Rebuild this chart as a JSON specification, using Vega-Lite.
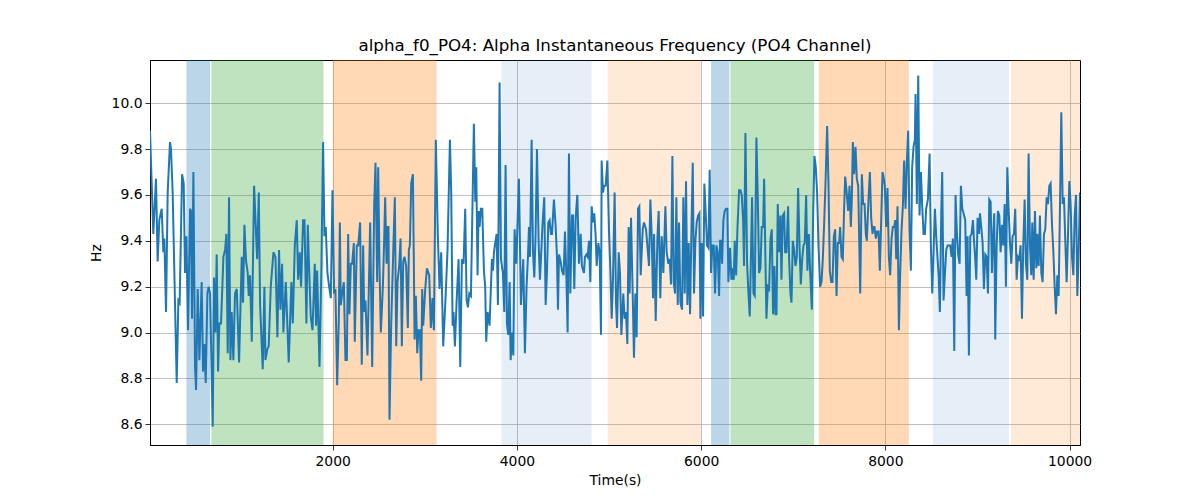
{
"$schema": "https://vega.github.io/schema/vega-lite/v6.json",
"autosize": {"type": "none"},
"padding": {"left": 150, "top": 60, "right": 120, "bottom": 55},
"width": 930,
"height": 385,
"title": {"text": "alpha_f0_PO4: Alpha Instantaneous Frequency (PO4 Channel)", "font": "DejaVu Sans", "fontSize": 16.7, "fontWeight": "normal", "color": "#000000", "offset": 5},
"config": {"view": {"stroke": "#000000", "strokeWidth": 1}},
"datasets": {
"bands": [
{"s": 412, "e": 669, "type": "a"},
{"s": 683, "e": 1900, "type": "b"},
{"s": 2001, "e": 3128, "type": "c"},
{"s": 3833, "e": 4811, "type": "d"},
{"s": 4985, "e": 5999, "type": "e"},
{"s": 6108, "e": 6307, "type": "a"},
{"s": 6318, "e": 7227, "type": "b"},
{"s": 7278, "e": 8255, "type": "c"},
{"s": 8516, "e": 9342, "type": "d"},
{"s": 9363, "e": 10113, "type": "e"}
],
"sig": [
{"t":17,"hz":9.88},{"t":53,"hz":9.43},{"t":82,"hz":9.67},{"t":100,"hz":9.31},{"t":118,"hz":9.49},{"t":144,"hz":9.54},{"t":162,"hz":9.35},{"t":173,"hz":9.41},{"t":191,"hz":9.09},{"t":209,"hz":9.61},{"t":234,"hz":9.83},{"t":245,"hz":9.80},{"t":263,"hz":9.61},{"t":307,"hz":8.78},{"t":325,"hz":9.14},{"t":339,"hz":9.13},{"t":365,"hz":9.69},{"t":383,"hz":9.65},{"t":397,"hz":9.26},{"t":412,"hz":9.42},{"t":430,"hz":9.01},{"t":452,"hz":9.54},{"t":462,"hz":9.53},{"t":473,"hz":9.06},{"t":488,"hz":9.70},{"t":506,"hz":8.85},{"t":517,"hz":8.75},{"t":535,"hz":9.19},{"t":553,"hz":8.88},{"t":578,"hz":9.22},{"t":593,"hz":8.83},{"t":607,"hz":8.95},{"t":622,"hz":8.78},{"t":640,"hz":9.17},{"t":654,"hz":9.20},{"t":669,"hz":9.17},{"t":698,"hz":8.59},{"t":712,"hz":9.24},{"t":727,"hz":9.00},{"t":741,"hz":9.34},{"t":756,"hz":8.83},{"t":770,"hz":9.04},{"t":788,"hz":9.04},{"t":814,"hz":9.33},{"t":832,"hz":9.36},{"t":846,"hz":9.43},{"t":861,"hz":8.91},{"t":875,"hz":9.59},{"t":890,"hz":8.88},{"t":904,"hz":9.09},{"t":922,"hz":8.88},{"t":940,"hz":9.17},{"t":959,"hz":9.19},{"t":984,"hz":8.87},{"t":1013,"hz":9.33},{"t":1027,"hz":9.13},{"t":1042,"hz":9.47},{"t":1060,"hz":9.31},{"t":1078,"hz":9.26},{"t":1089,"hz":9.16},{"t":1103,"hz":9.25},{"t":1122,"hz":8.96},{"t":1147,"hz":9.64},{"t":1180,"hz":9.32},{"t":1198,"hz":9.61},{"t":1212,"hz":9.12},{"t":1241,"hz":8.84},{"t":1259,"hz":9.20},
{"t":1270,"hz":8.88},{"t":1292,"hz":8.93},{"t":1306,"hz":8.94},{"t":1328,"hz":9.20},{"t":1357,"hz":9.35},{"t":1379,"hz":9.33},{"t":1400,"hz":8.98},{"t":1418,"hz":9.36},{"t":1433,"hz":9.10},{"t":1451,"hz":9.30},{"t":1465,"hz":9.00},{"t":1491,"hz":9.22},{"t":1523,"hz":8.87},{"t":1552,"hz":9.22},{"t":1567,"hz":9.04},{"t":1589,"hz":9.38},{"t":1610,"hz":9.49},{"t":1625,"hz":9.23},{"t":1643,"hz":9.35},{"t":1657,"hz":9.20},{"t":1679,"hz":9.49},{"t":1694,"hz":9.49},{"t":1715,"hz":9.04},{"t":1730,"hz":9.47},{"t":1741,"hz":9.32},{"t":1762,"hz":9.07},{"t":1781,"hz":9.01},{"t":1806,"hz":9.30},{"t":1820,"hz":9.03},{"t":1831,"hz":9.27},{"t":1857,"hz":8.85},{"t":1878,"hz":9.29},{"t":1896,"hz":9.83},{"t":1911,"hz":9.42},{"t":1925,"hz":9.46},{"t":1943,"hz":9.26},{"t":1962,"hz":9.20},{"t":1980,"hz":9.15},{"t":1998,"hz":9.62},{"t":2016,"hz":9.17},{"t":2030,"hz":9.19},{"t":2049,"hz":8.77},{"t":2067,"hz":9.06},{"t":2078,"hz":9.48},{"t":2088,"hz":9.12},{"t":2103,"hz":9.17},{"t":2121,"hz":9.22},{"t":2139,"hz":8.88},{"t":2154,"hz":8.88},{"t":2168,"hz":9.43},{"t":2182,"hz":9.08},{"t":2197,"hz":9.30},{"t":2211,"hz":9.30},{"t":2230,"hz":9.39},{"t":2240,"hz":8.96},{"t":2262,"hz":9.38},{"t":2277,"hz":9.38},{"t":2298,"hz":9.48},{"t":2316,"hz":8.86},{"t":2331,"hz":9.38},{"t":2342,"hz":9.09},{"t":2356,"hz":9.14},{"t":2378,"hz":8.90},{"t":2407,"hz":9.48},{"t":2429,"hz":8.85},{"t":2451,"hz":9.56},{"t":2465,"hz":9.74},{"t":2483,"hz":9.22},{"t":2494,"hz":9.72},{"t":2508,"hz":9.30},{"t":2523,"hz":9.00},
{"t":2545,"hz":9.20},{"t":2559,"hz":9.40},{"t":2570,"hz":9.59},{"t":2585,"hz":9.30},{"t":2595,"hz":9.46},{"t":2606,"hz":9.46},{"t":2617,"hz":8.62},{"t":2635,"hz":9.03},{"t":2661,"hz":9.40},{"t":2675,"hz":9.59},{"t":2690,"hz":8.94},{"t":2704,"hz":9.22},{"t":2722,"hz":9.29},{"t":2737,"hz":9.41},{"t":2751,"hz":8.94},{"t":2766,"hz":9.31},{"t":2780,"hz":9.33},{"t":2798,"hz":9.29},{"t":2816,"hz":9.02},{"t":2827,"hz":9.36},{"t":2838,"hz":9.38},{"t":2853,"hz":9.65},{"t":2871,"hz":9.69},{"t":2881,"hz":9.32},{"t":2889,"hz":8.97},{"t":2903,"hz":9.16},{"t":2918,"hz":8.91},{"t":2932,"hz":9.01},{"t":2947,"hz":9.01},{"t":2961,"hz":8.79},{"t":2972,"hz":9.19},{"t":2983,"hz":9.03},{"t":3005,"hz":9.19},{"t":3023,"hz":9.28},{"t":3048,"hz":9.25},{"t":3066,"hz":9.02},{"t":3084,"hz":9.15},{"t":3099,"hz":9.01},{"t":3120,"hz":9.84},{"t":3142,"hz":9.42},{"t":3160,"hz":9.19},{"t":3178,"hz":9.35},{"t":3200,"hz":8.94},{"t":3222,"hz":9.12},{"t":3247,"hz":9.36},{"t":3273,"hz":9.84},{"t":3287,"hz":9.61},{"t":3302,"hz":9.03},{"t":3312,"hz":9.09},{"t":3327,"hz":8.94},{"t":3345,"hz":9.13},{"t":3367,"hz":9.32},{"t":3385,"hz":8.85},{"t":3403,"hz":9.32},{"t":3421,"hz":9.30},{"t":3439,"hz":9.54},{"t":3454,"hz":9.14},{"t":3468,"hz":9.11},{"t":3483,"hz":9.17},{"t":3501,"hz":9.16},{"t":3519,"hz":9.58},{"t":3533,"hz":9.91},{"t":3548,"hz":9.57},{"t":3559,"hz":9.72},{"t":3573,"hz":9.25},{"t":3584,"hz":9.53},{"t":3595,"hz":9.46},{"t":3609,"hz":9.54},{"t":3624,"hz":9.54},{"t":3642,"hz":9.27},{"t":3656,"hz":9.20},{"t":3667,"hz":8.96},{"t":3682,"hz":9.09},{"t":3703,"hz":9.03},{"t":3729,"hz":9.32},{"t":3740,"hz":9.27},{"t":3751,"hz":9.35},{"t":3761,"hz":9.38},{"t":3780,"hz":9.43},{"t":3794,"hz":9.12},
{"t":3812,"hz":10.09},{"t":3827,"hz":9.32},{"t":3848,"hz":9.26},{"t":3863,"hz":9.09},{"t":3877,"hz":9.73},{"t":3892,"hz":9.04},{"t":3906,"hz":8.99},{"t":3921,"hz":9.22},{"t":3932,"hz":8.88},{"t":3950,"hz":9.00},{"t":3961,"hz":8.90},{"t":3975,"hz":9.45},{"t":3993,"hz":9.30},{"t":4022,"hz":9.67},{"t":4044,"hz":9.12},{"t":4069,"hz":9.32},{"t":4087,"hz":8.91},{"t":4105,"hz":9.20},{"t":4120,"hz":9.33},{"t":4131,"hz":9.46},{"t":4142,"hz":9.33},{"t":4160,"hz":9.84},{"t":4174,"hz":9.36},{"t":4189,"hz":9.24},{"t":4203,"hz":9.43},{"t":4218,"hz":9.80},{"t":4236,"hz":9.39},{"t":4250,"hz":9.23},{"t":4261,"hz":9.32},{"t":4279,"hz":9.48},{"t":4297,"hz":9.59},{"t":4312,"hz":9.12},{"t":4326,"hz":9.26},{"t":4341,"hz":9.48},{"t":4355,"hz":9.49},{"t":4370,"hz":9.43},{"t":4381,"hz":9.43},{"t":4402,"hz":9.58},{"t":4420,"hz":9.47},{"t":4435,"hz":9.33},{"t":4446,"hz":9.10},{"t":4457,"hz":9.34},{"t":4475,"hz":9.31},{"t":4489,"hz":9.27},{"t":4507,"hz":9.25},{"t":4522,"hz":9.44},{"t":4536,"hz":9.26},{"t":4551,"hz":9.00},{"t":4565,"hz":9.78},{"t":4580,"hz":9.17},{"t":4598,"hz":9.51},{"t":4609,"hz":9.51},{"t":4623,"hz":9.19},{"t":4638,"hz":9.50},{"t":4656,"hz":9.60},{"t":4674,"hz":9.30},{"t":4692,"hz":9.43},{"t":4706,"hz":9.29},{"t":4728,"hz":9.26},{"t":4739,"hz":9.33},{"t":4754,"hz":9.34},{"t":4768,"hz":9.33},{"t":4783,"hz":9.40},{"t":4797,"hz":9.22},{"t":4812,"hz":9.55},{"t":4826,"hz":9.48},{"t":4840,"hz":9.52},{"t":4855,"hz":9.42},{"t":4866,"hz":9.29},{"t":4884,"hz":9.39},{"t":4898,"hz":9.35},{"t":4913,"hz":8.99},{"t":4920,"hz":9.75},{"t":4935,"hz":9.61},{"t":4946,"hz":9.64},{"t":4964,"hz":9.64},{"t":4982,"hz":9.75},{"t":5000,"hz":9.44},{"t":5014,"hz":9.28},{"t":5029,"hz":9.06},{"t":5043,"hz":9.23},
{"t":5061,"hz":9.61},{"t":5076,"hz":9.13},{"t":5087,"hz":9.02},{"t":5105,"hz":9.35},{"t":5119,"hz":9.26},{"t":5134,"hz":8.99},{"t":5155,"hz":9.17},{"t":5170,"hz":9.06},{"t":5184,"hz":9.09},{"t":5199,"hz":8.95},{"t":5213,"hz":9.46},{"t":5224,"hz":9.17},{"t":5239,"hz":9.50},{"t":5257,"hz":9.17},{"t":5271,"hz":8.89},{"t":5286,"hz":9.17},{"t":5300,"hz":8.98},{"t":5315,"hz":9.54},{"t":5329,"hz":9.55},{"t":5344,"hz":9.25},{"t":5366,"hz":9.45},{"t":5380,"hz":9.48},{"t":5402,"hz":9.45},{"t":5420,"hz":9.36},{"t":5434,"hz":9.29},{"t":5449,"hz":9.58},{"t":5463,"hz":9.43},{"t":5478,"hz":9.15},{"t":5489,"hz":9.43},{"t":5507,"hz":9.05},{"t":5525,"hz":9.41},{"t":5539,"hz":9.53},{"t":5557,"hz":9.15},{"t":5572,"hz":9.42},{"t":5590,"hz":9.26},{"t":5612,"hz":9.55},{"t":5626,"hz":9.35},{"t":5644,"hz":9.30},{"t":5659,"hz":9.32},{"t":5673,"hz":9.21},{"t":5688,"hz":9.77},{"t":5702,"hz":9.22},{"t":5717,"hz":9.17},{"t":5731,"hz":9.59},{"t":5746,"hz":9.12},{"t":5760,"hz":9.48},{"t":5775,"hz":9.13},{"t":5793,"hz":9.10},{"t":5807,"hz":9.59},{"t":5822,"hz":9.17},{"t":5836,"hz":9.66},{"t":5851,"hz":9.12},{"t":5865,"hz":9.39},{"t":5880,"hz":9.08},{"t":5894,"hz":9.43},{"t":5909,"hz":9.74},{"t":5923,"hz":9.17},{"t":5938,"hz":9.40},{"t":5952,"hz":9.48},{"t":5967,"hz":9.51},{"t":5981,"hz":9.52},{"t":5992,"hz":9.06},{"t":6006,"hz":9.39},{"t":6021,"hz":9.07},{"t":6035,"hz":9.65},{"t":6050,"hz":9.52},{"t":6064,"hz":9.38},{"t":6079,"hz":9.37},{"t":6093,"hz":9.71},{"t":6108,"hz":9.26},{"t":6122,"hz":9.38},{"t":6137,"hz":9.38},{"t":6151,"hz":9.17},{"t":6166,"hz":9.38},{"t":6180,"hz":9.35},{"t":6195,"hz":9.16},{"t":6206,"hz":9.40},{"t":6220,"hz":9.40},{"t":6227,"hz":9.30},{"t":6242,"hz":9.49},{"t":6256,"hz":9.53},{"t":6271,"hz":9.54},{"t":6285,"hz":9.54},{"t":6296,"hz":9.22},{"t":6314,"hz":9.37},
{"t":6329,"hz":9.23},{"t":6343,"hz":9.28},{"t":6354,"hz":9.23},{"t":6365,"hz":9.40},{"t":6380,"hz":9.25},{"t":6394,"hz":9.45},{"t":6412,"hz":9.62},{"t":6427,"hz":9.62},{"t":6441,"hz":9.60},{"t":6456,"hz":9.49},{"t":6466,"hz":9.29},{"t":6481,"hz":9.87},{"t":6499,"hz":9.30},{"t":6514,"hz":9.17},{"t":6528,"hz":9.07},{"t":6542,"hz":9.35},{"t":6553,"hz":9.59},{"t":6568,"hz":9.17},{"t":6582,"hz":9.16},{"t":6600,"hz":9.85},{"t":6615,"hz":9.59},{"t":6629,"hz":9.26},{"t":6644,"hz":9.28},{"t":6658,"hz":9.46},{"t":6673,"hz":9.46},{"t":6684,"hz":9.67},{"t":6698,"hz":9.32},{"t":6709,"hz":9.06},{"t":6724,"hz":9.20},{"t":6738,"hz":9.19},{"t":6753,"hz":9.41},{"t":6767,"hz":9.45},{"t":6781,"hz":9.08},{"t":6796,"hz":9.29},{"t":6807,"hz":9.08},{"t":6818,"hz":9.08},{"t":6832,"hz":9.56},{"t":6847,"hz":9.35},{"t":6861,"hz":9.51},{"t":6872,"hz":9.23},{"t":6886,"hz":9.51},{"t":6901,"hz":9.52},{"t":6912,"hz":9.35},{"t":6926,"hz":9.35},{"t":6944,"hz":9.55},{"t":6955,"hz":9.32},{"t":6970,"hz":9.17},{"t":6981,"hz":9.13},{"t":6995,"hz":9.40},{"t":7010,"hz":9.36},{"t":7024,"hz":9.29},{"t":7039,"hz":9.33},{"t":7053,"hz":9.63},{"t":7068,"hz":9.38},{"t":7082,"hz":9.21},{"t":7097,"hz":9.32},{"t":7111,"hz":9.38},{"t":7125,"hz":9.39},{"t":7140,"hz":9.60},{"t":7154,"hz":9.27},{"t":7169,"hz":9.43},{"t":7183,"hz":9.27},{"t":7202,"hz":9.10},{"t":7216,"hz":9.52},{"t":7230,"hz":9.77},{"t":7245,"hz":9.72},{"t":7259,"hz":9.61},{"t":7274,"hz":9.38},{"t":7292,"hz":9.20},{"t":7307,"hz":9.22},{"t":7321,"hz":9.32},{"t":7336,"hz":9.48},{"t":7350,"hz":9.65},{"t":7368,"hz":9.90},{"t":7383,"hz":9.64},{"t":7397,"hz":9.27},{"t":7412,"hz":9.22},{"t":7426,"hz":9.22},{"t":7441,"hz":9.42},{"t":7455,"hz":9.45},{"t":7470,"hz":9.16},{"t":7484,"hz":9.39},{"t":7498,"hz":9.39},{"t":7509,"hz":9.46},{"t":7524,"hz":9.33},{"t":7538,"hz":9.32},{"t":7553,"hz":9.55},{"t":7564,"hz":9.68},{"t":7578,"hz":9.62},
{"t":7596,"hz":9.53},{"t":7611,"hz":9.64},{"t":7625,"hz":9.46},{"t":7636,"hz":9.58},{"t":7647,"hz":9.83},{"t":7661,"hz":9.69},{"t":7676,"hz":9.81},{"t":7690,"hz":9.67},{"t":7705,"hz":9.64},{"t":7727,"hz":9.17},{"t":7745,"hz":9.69},{"t":7759,"hz":9.56},{"t":7774,"hz":9.56},{"t":7788,"hz":9.43},{"t":7799,"hz":9.40},{"t":7817,"hz":9.58},{"t":7832,"hz":9.70},{"t":7846,"hz":9.50},{"t":7861,"hz":9.43},{"t":7871,"hz":9.46},{"t":7882,"hz":9.46},{"t":7897,"hz":9.41},{"t":7911,"hz":9.44},{"t":7926,"hz":9.44},{"t":7940,"hz":9.27},{"t":7955,"hz":9.49},{"t":7969,"hz":9.70},{"t":7984,"hz":9.67},{"t":7994,"hz":9.64},{"t":8009,"hz":9.46},{"t":8023,"hz":9.63},{"t":8038,"hz":9.33},{"t":8052,"hz":9.25},{"t":8067,"hz":9.41},{"t":8081,"hz":9.46},{"t":8096,"hz":9.46},{"t":8107,"hz":9.49},{"t":8118,"hz":9.32},{"t":8132,"hz":9.55},{"t":8147,"hz":9.01},{"t":8161,"hz":9.26},{"t":8176,"hz":9.45},{"t":8190,"hz":9.55},{"t":8204,"hz":9.75},{"t":8219,"hz":9.54},{"t":8233,"hz":9.74},{"t":8248,"hz":9.88},{"t":8262,"hz":9.45},{"t":8277,"hz":9.27},{"t":8291,"hz":9.72},{"t":8306,"hz":9.81},{"t":8320,"hz":9.84},{"t":8328,"hz":10.04},{"t":8342,"hz":9.56},{"t":8357,"hz":10.12},{"t":8371,"hz":9.51},{"t":8386,"hz":9.70},{"t":8400,"hz":9.55},{"t":8415,"hz":9.43},{"t":8429,"hz":9.43},{"t":8443,"hz":9.54},{"t":8462,"hz":9.58},{"t":8480,"hz":9.78},{"t":8494,"hz":9.38},{"t":8509,"hz":9.17},{"t":8523,"hz":9.35},{"t":8538,"hz":9.54},{"t":8552,"hz":9.42},{"t":8567,"hz":9.32},{"t":8578,"hz":9.25},{"t":8592,"hz":9.09},{"t":8607,"hz":9.52},{"t":8617,"hz":9.70},{"t":8632,"hz":9.14},{"t":8646,"hz":9.25},{"t":8661,"hz":9.36},{"t":8675,"hz":9.38},{"t":8690,"hz":9.38},{"t":8704,"hz":9.38},{"t":8719,"hz":9.33},{"t":8733,"hz":9.41},{"t":8748,"hz":8.92},{"t":8762,"hz":9.60},{"t":8777,"hz":9.43},{"t":8791,"hz":9.34},{"t":8806,"hz":9.30},{"t":8820,"hz":9.64},{"t":8835,"hz":9.54},{"t":8849,"hz":9.52},
{"t":8867,"hz":9.49},{"t":8882,"hz":9.16},{"t":8893,"hz":9.42},{"t":8907,"hz":8.90},{"t":8922,"hz":9.42},{"t":8936,"hz":9.43},{"t":8951,"hz":9.49},{"t":8961,"hz":9.41},{"t":8976,"hz":9.32},{"t":8987,"hz":9.23},{"t":9001,"hz":9.50},{"t":9016,"hz":9.43},{"t":9027,"hz":9.52},{"t":9041,"hz":9.46},{"t":9056,"hz":9.39},{"t":9070,"hz":9.19},{"t":9085,"hz":9.34},{"t":9099,"hz":9.33},{"t":9114,"hz":9.17},{"t":9128,"hz":9.58},{"t":9143,"hz":9.57},{"t":9157,"hz":9.26},{"t":9168,"hz":9.40},{"t":9182,"hz":9.52},{"t":9193,"hz":8.97},{"t":9208,"hz":9.38},{"t":9222,"hz":9.53},{"t":9237,"hz":9.51},{"t":9251,"hz":9.35},{"t":9266,"hz":9.47},{"t":9280,"hz":9.38},{"t":9295,"hz":9.56},{"t":9309,"hz":9.20},{"t":9324,"hz":9.72},{"t":9338,"hz":9.54},{"t":9353,"hz":9.39},{"t":9367,"hz":9.30},{"t":9381,"hz":9.42},{"t":9396,"hz":9.43},{"t":9410,"hz":9.54},{"t":9425,"hz":9.23},{"t":9439,"hz":9.33},{"t":9454,"hz":9.32},{"t":9468,"hz":9.38},{"t":9483,"hz":9.06},{"t":9497,"hz":9.38},{"t":9512,"hz":9.58},{"t":9526,"hz":9.30},{"t":9541,"hz":9.23},{"t":9555,"hz":9.78},{"t":9570,"hz":9.38},{"t":9584,"hz":9.25},{"t":9595,"hz":9.48},{"t":9610,"hz":9.23},{"t":9624,"hz":9.53},{"t":9639,"hz":9.28},{"t":9649,"hz":9.43},{"t":9664,"hz":9.29},{"t":9678,"hz":9.51},{"t":9693,"hz":9.26},{"t":9707,"hz":9.22},{"t":9722,"hz":9.43},{"t":9736,"hz":9.45},{"t":9751,"hz":9.59},{"t":9765,"hz":9.56},{"t":9780,"hz":9.64},{"t":9794,"hz":9.65},{"t":9809,"hz":9.47},{"t":9823,"hz":9.36},{"t":9838,"hz":9.20},{"t":9852,"hz":9.08},{"t":9867,"hz":9.25},{"t":9881,"hz":9.16},{"t":9896,"hz":9.56},{"t":9910,"hz":9.96},{"t":9925,"hz":9.56},{"t":9939,"hz":9.59},{"t":9954,"hz":9.39},{"t":9968,"hz":9.22},{"t":9983,"hz":9.43},{"t":9997,"hz":9.66},{"t":10012,"hz":9.55},{"t":10026,"hz":9.33},{"t":10041,"hz":9.25},{"t":10055,"hz":9.51},{"t":10070,"hz":9.60},{"t":10084,"hz":9.16},{"t":10098,"hz":9.34},{"t":10113,"hz":9.61}
]
},
"layer": [
{
"data": {"name": "bands"},
"mark": {"type": "rect", "clip": true},
"encoding": {
"x": {"field": "s", "type": "quantitative", "scale": {"domain": [17, 10113], "nice": false, "zero": false},
"axis": {"title": "Time(s)", "values": [2000, 4000, 6000, 8000, 10000], "format": "d", "grid": true, "gridColor": "#b0b0b0", "gridWidth": 0.8, "tickColor": "#000000", "tickSize": 5, "tickWidth": 0.8, "labelFont": "DejaVu Sans", "labelFontSize": 13.9, "labelColor": "#000000", "labelPadding": 4, "titleFont": "DejaVu Sans", "titleFontSize": 13.9, "titleFontWeight": "normal", "titleColor": "#000000", "titlePadding": 6, "domainColor": "#000000", "domainWidth": 1}},
"x2": {"field": "e"},
"color": {"field": "type", "type": "nominal", "legend": null,
"scale": {"domain": ["a", "b", "c", "d", "e"], "range": ["rgba(31,119,180,0.3)", "rgba(44,160,44,0.3)", "rgba(255,127,14,0.3)", "rgba(31,100,190,0.11)", "rgba(255,127,14,0.16)"]}}
}
},
{
"data": {"name": "sig"},
"mark": {"type": "line", "color": "#1f77b4", "strokeWidth": 2, "clip": true},
"encoding": {
"x": {"field": "t", "type": "quantitative",
"axis": {"title": "Time(s)", "values": [2000, 4000, 6000, 8000, 10000], "format": "d", "grid": true, "gridColor": "#b0b0b0", "gridWidth": 0.8, "tickColor": "#000000", "tickSize": 5, "tickWidth": 0.8, "labelFont": "DejaVu Sans", "labelFontSize": 13.9, "labelColor": "#000000", "labelPadding": 4, "titleFont": "DejaVu Sans", "titleFontSize": 13.9, "titleFontWeight": "normal", "titleColor": "#000000", "titlePadding": 6, "domainColor": "#000000", "domainWidth": 1}},
"y": {"field": "hz", "type": "quantitative", "scale": {"domain": [8.51, 10.188], "nice": false, "zero": false},
"axis": {"title": "Hz", "values": [8.6, 8.8, 9.0, 9.2, 9.4, 9.6, 9.8, 10.0], "format": ".1f", "grid": true, "gridColor": "#b0b0b0", "gridWidth": 0.8, "tickColor": "#000000", "tickSize": 5, "tickWidth": 0.8, "labelFont": "DejaVu Sans", "labelFontSize": 13.9, "labelColor": "#000000", "labelPadding": 3, "titleFont": "DejaVu Sans", "titleFontSize": 13.9, "titleFontWeight": "normal", "titleColor": "#000000", "titlePadding": 8, "domainColor": "#000000", "domainWidth": 1}}
}
}
]
}
